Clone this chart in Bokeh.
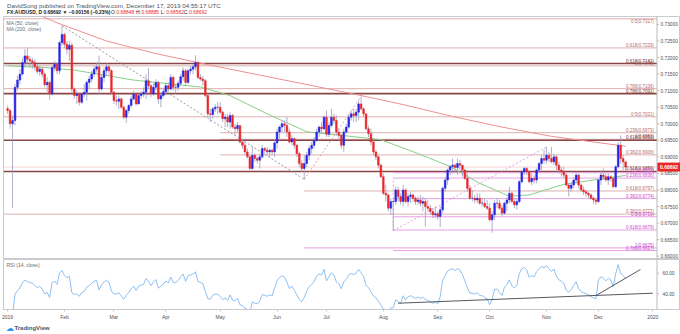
import numpy as np
import pandas as pd
from bokeh.plotting import figure
from bokeh.layouts import column
from bokeh.models import ColumnDataSource, Range1d, FixedTicker, Span
from bokeh.core.properties import value
from bokeh.embed import file_html
from bokeh.resources import INLINE

FONT = "Liberation Sans"

# ---------------- data (FX:AUDUSD daily, 2019) ----------------
first_open = 0.7046
closes = [
    # Jan
    0.7040, 0.7000, 0.7010, 0.7110, 0.7132, 0.7150, 0.7185, 0.7205, 0.7195, 0.7190, 0.7185, 0.7172,
    0.7158, 0.7165, 0.7150, 0.7118, 0.7125, 0.7090, 0.7170, 0.7180, 0.7160, 0.7245, 0.7270,
    # Feb
    0.7240, 0.7225, 0.7237, 0.7105, 0.7085, 0.7090, 0.7065, 0.7090, 0.7095, 0.7125, 0.7135, 0.7150,
    0.7165, 0.7172, 0.7105, 0.7140, 0.7160, 0.7172, 0.7160, 0.7095,
    # Mar
    0.7070, 0.7068, 0.7075, 0.7050, 0.7020, 0.7040, 0.7055, 0.7075, 0.7090, 0.7060, 0.7085, 0.7090,
    0.7095, 0.7130, 0.7115, 0.7090, 0.7110, 0.7125, 0.7075, 0.7085, 0.7097,
    # Apr
    0.7115, 0.7105, 0.7140, 0.7110, 0.7110, 0.7122, 0.7142, 0.7160, 0.7125, 0.7160, 0.7165, 0.7172,
    0.7185, 0.7140, 0.7135, 0.7130, 0.7085, 0.7030, 0.7028, 0.7045, 0.7050, 0.7050,
    # May
    0.7035, 0.7015, 0.7020, 0.7005, 0.7025, 0.6990, 0.6985, 0.6995, 0.6945, 0.6935, 0.6915, 0.6900,
    0.6865, 0.6905, 0.6895, 0.6890, 0.6900, 0.6925, 0.6920, 0.6915, 0.6920, 0.6915, 0.6942,
    # Jun
    0.6975, 0.6990, 0.7000, 0.6995, 0.6975, 0.6945, 0.6955, 0.6935, 0.6910, 0.6880, 0.6865, 0.6880,
    0.6905, 0.6925, 0.6935, 0.6950, 0.6975, 0.6990, 0.6985, 0.7020,
    # Jul
    0.6968, 0.6995, 0.7020, 0.7010, 0.6975, 0.6965, 0.6935, 0.6975, 0.6990, 0.7020, 0.7030, 0.7025,
    0.7035, 0.7060, 0.7045, 0.7030, 0.6985, 0.6970, 0.6945, 0.6915, 0.6900, 0.6875, 0.6840,
    # Aug
    0.6790, 0.6785, 0.6745, 0.6765, 0.6765, 0.6800, 0.6780, 0.6765, 0.6800, 0.6765, 0.6780, 0.6785,
    0.6775, 0.6765, 0.6770, 0.6760, 0.6765, 0.6750, 0.6745, 0.6735, 0.6725, 0.6728,
    # Sep
    0.6720, 0.6740, 0.6805, 0.6830, 0.6860, 0.6870, 0.6875, 0.6868, 0.6880, 0.6875, 0.6860, 0.6835,
    0.6805, 0.6775, 0.6775, 0.6770, 0.6775, 0.6760, 0.6760, 0.6750, 0.6745,
    # Oct
    0.6710, 0.6725, 0.6760, 0.6760, 0.6745, 0.6730, 0.6760, 0.6770, 0.6790, 0.6765, 0.6755, 0.6765,
    0.6825, 0.6855, 0.6865, 0.6855, 0.6825, 0.6835, 0.6830, 0.6860, 0.6880, 0.6895, 0.6890,
    # Nov
    0.6905, 0.6895, 0.6885, 0.6900, 0.6875, 0.6860, 0.6855, 0.6845, 0.6815, 0.6805, 0.6815, 0.6830,
    0.6845, 0.6815, 0.6800, 0.6795, 0.6790, 0.6785, 0.6775, 0.6770, 0.6765,
    # Dec
    0.6830, 0.6845, 0.6840, 0.6830, 0.6840, 0.6835, 0.6810, 0.6870, 0.6935, 0.6895, 0.68848, 0.68692,
]
highs = [
    0.7055, 0.7045, 0.7025, 0.7120, 0.7145, 0.7165, 0.7200, 0.7225, 0.7230, 0.7205, 0.7200, 0.7195,
    0.7180, 0.7175, 0.7170, 0.7155, 0.7140, 0.7130, 0.7175, 0.7190, 0.7185, 0.7250, 0.7296,
    0.7275, 0.7250, 0.7250, 0.7245, 0.7110, 0.7100, 0.7095, 0.7095, 0.7120, 0.7130, 0.7145, 0.7160,
    0.7175, 0.7185, 0.7206, 0.7150, 0.7170, 0.7182, 0.7180, 0.7165,
    0.7100, 0.7085, 0.7085, 0.7080, 0.7055, 0.7045, 0.7060, 0.7085, 0.7100, 0.7095, 0.7090, 0.7100,
    0.7110, 0.7150, 0.7168, 0.7120, 0.7120, 0.7135, 0.7130, 0.7095, 0.7110,
    0.7125, 0.7125, 0.7150, 0.7145, 0.7120, 0.7130, 0.7150, 0.7170, 0.7165, 0.7165, 0.7175, 0.7180,
    0.7207, 0.7190, 0.7150, 0.7145, 0.7135, 0.7090, 0.7045, 0.7050, 0.7060, 0.7065,
    0.7065, 0.7040, 0.7030, 0.7030, 0.7035, 0.7030, 0.7000, 0.7005, 0.6995, 0.6955, 0.6945, 0.6925,
    0.6905, 0.6930, 0.6910, 0.6900, 0.6910, 0.6935, 0.6930, 0.6930, 0.6925, 0.6925, 0.6950,
    0.6985, 0.6995, 0.7010, 0.7010, 0.7020, 0.6985, 0.6965, 0.6960, 0.6940, 0.6915, 0.6890, 0.6905,
    0.6915, 0.6935, 0.6945, 0.6960, 0.6985, 0.6995, 0.7005, 0.7025,
    0.7040, 0.7005, 0.7045, 0.7030, 0.7025, 0.6985, 0.6970, 0.6985, 0.7000, 0.7030, 0.7040, 0.7045,
    0.7045, 0.7070, 0.7082, 0.7050, 0.7030, 0.6995, 0.6985, 0.6950, 0.6920, 0.6905, 0.6880,
    0.6850, 0.6815, 0.6790, 0.6775, 0.6775, 0.6810, 0.6810, 0.6790, 0.6815, 0.6805, 0.6790, 0.6795,
    0.6790, 0.6780, 0.6780, 0.6785, 0.6780, 0.6775, 0.6770, 0.6755, 0.6745, 0.6750,
    0.6735, 0.6750, 0.6810, 0.6840, 0.6865, 0.6875, 0.6895, 0.6880, 0.6895, 0.6890, 0.6875, 0.6865,
    0.6850, 0.6815, 0.6800, 0.6785, 0.6790, 0.6790, 0.6775, 0.6775, 0.6770,
    0.6760, 0.6735, 0.6770, 0.6775, 0.6770, 0.6755, 0.6765, 0.6780, 0.6810, 0.6795, 0.6775, 0.6775,
    0.6830, 0.6860, 0.6870, 0.6870, 0.6860, 0.6850, 0.6845, 0.6865, 0.6885, 0.6905, 0.6922,
    0.6930, 0.6915, 0.6930, 0.6910, 0.6905, 0.6885, 0.6870, 0.6870, 0.6850, 0.6820, 0.6825, 0.6835,
    0.6855, 0.6850, 0.6820, 0.6810, 0.6800, 0.6795, 0.6790, 0.6780, 0.6775,
    0.6835, 0.6860, 0.6865, 0.6850, 0.6850, 0.6845, 0.6840, 0.6875, 0.6945, 0.6965, 0.6905, 0.68885,
]
lows = [
    0.7030, 0.6985, 0.6745, 0.6995, 0.7100, 0.7120, 0.7145, 0.7170, 0.7180, 0.7170, 0.7165, 0.7160,
    0.7150, 0.7145, 0.7140, 0.7110, 0.7095, 0.7072, 0.7085, 0.7160, 0.7150, 0.7150, 0.7235,
    0.7230, 0.7210, 0.7190, 0.7095, 0.7075, 0.7060, 0.7055, 0.7060, 0.7080, 0.7070, 0.7105, 0.7125,
    0.7140, 0.7155, 0.7090, 0.7100, 0.7125, 0.7145, 0.7145, 0.7090,
    0.7060, 0.7055, 0.7045, 0.7045, 0.7015, 0.7003, 0.7030, 0.7050, 0.7070, 0.7055, 0.7058, 0.7075,
    0.7080, 0.7075, 0.7105, 0.7080, 0.7085, 0.7100, 0.7060, 0.7050, 0.7080,
    0.7090, 0.7095, 0.7100, 0.7100, 0.7090, 0.7100, 0.7115, 0.7130, 0.7115, 0.7120, 0.7150, 0.7150,
    0.7160, 0.7135, 0.7130, 0.7115, 0.7080, 0.7020, 0.7005, 0.7015, 0.7035, 0.7030,
    0.7030, 0.7005, 0.6990, 0.6990, 0.6985, 0.6985, 0.6965, 0.6975, 0.6940, 0.6925, 0.6905, 0.6895,
    0.6860, 0.6860, 0.6885, 0.6880, 0.6865, 0.6895, 0.6910, 0.6905, 0.6900, 0.6905, 0.6900,
    0.6925, 0.6955, 0.6975, 0.6975, 0.6960, 0.6940, 0.6935, 0.6925, 0.6900, 0.6870, 0.6855, 0.6832,
    0.6870, 0.6890, 0.6910, 0.6925, 0.6945, 0.6960, 0.6970, 0.6980,
    0.6960, 0.6960, 0.6990, 0.7000, 0.6965, 0.6950, 0.6925, 0.6915, 0.6970, 0.6985, 0.7010, 0.7005,
    0.7005, 0.7010, 0.7040, 0.7020, 0.6980, 0.6960, 0.6935, 0.6905, 0.6890, 0.6865, 0.6835,
    0.6785, 0.6765, 0.6735, 0.6725, 0.6677, 0.6755, 0.6765, 0.6755, 0.6750, 0.6760, 0.6750, 0.6760,
    0.6765, 0.6755, 0.6755, 0.6750, 0.6735, 0.6690, 0.6735, 0.6725, 0.6715, 0.6715,
    0.6710, 0.6688, 0.6730, 0.6795, 0.6815, 0.6845, 0.6850, 0.6855, 0.6845, 0.6860, 0.6840, 0.6830,
    0.6795, 0.6770, 0.6765, 0.6760, 0.6760, 0.6755, 0.6750, 0.6745, 0.6740,
    0.6705, 0.6671, 0.6710, 0.6745, 0.6740, 0.6720, 0.6725, 0.6735, 0.6760, 0.6760, 0.6745, 0.6740,
    0.6760, 0.6820, 0.6845, 0.6845, 0.6820, 0.6815, 0.6820, 0.6820, 0.6850, 0.6860, 0.6880,
    0.6880, 0.6885, 0.6880, 0.6875, 0.6860, 0.6850, 0.6840, 0.6835, 0.6810, 0.6780, 0.6795, 0.6805,
    0.6820, 0.6805, 0.6795, 0.6785, 0.6780, 0.6775, 0.6770, 0.6758, 0.6755,
    0.6760, 0.6815, 0.6830, 0.6825, 0.6815, 0.6825, 0.6805, 0.6805, 0.6865, 0.6880, 0.6860, 0.68562,
]
# closes of Dec 2018 (RSI warm-up)
closes_dec2018 = [0.7345, 0.7300, 0.7225, 0.7210, 0.7195, 0.7200, 0.7215, 0.7205, 0.7165, 0.7180,
                  0.7150, 0.7105, 0.7120, 0.7050, 0.7040, 0.7045, 0.7025, 0.7045, 0.7040, 0.7046]

ma50_dates = ["2019-01-01", "2019-01-22", "2019-02-07", "2019-03-13", "2019-04-19", "2019-05-07",
              "2019-05-28", "2019-06-19", "2019-07-09", "2019-07-31", "2019-08-21", "2019-09-09",
              "2019-09-25", "2019-10-11", "2019-10-23", "2019-11-12", "2019-11-26", "2019-12-17"]
ma50_values = [0.7175, 0.7170, 0.7162, 0.7132, 0.7111, 0.7085, 0.7030, 0.6976, 0.6965, 0.6952,
               0.6910, 0.6871, 0.6820, 0.6781, 0.6785, 0.6817, 0.6828, 0.6844]
ma200_dates = ["2019-01-01", "2019-01-29", "2019-02-26", "2019-03-26", "2019-04-23", "2019-05-21",
               "2019-06-18", "2019-07-16", "2019-08-13", "2019-09-10", "2019-10-08", "2019-11-05",
               "2019-12-03", "2019-12-17"]
ma200_values = [0.7370, 0.7305, 0.7250, 0.7212, 0.7180, 0.7150, 0.7120, 0.7090, 0.7058, 0.7022,
                0.6990, 0.6962, 0.6942, 0.6932]

fib_prices = [0.7317, 0.7229, 0.7182, 0.7175, 0.7106, 0.7091, 0.7021, 0.6973, 0.6953, 0.6950,
              0.6906, 0.6856, 0.6852, 0.6836, 0.6797, 0.6774, 0.6727, 0.6719, 0.6679, 0.6625, 0.6617]
fib_ratios = ["0.5", "0.618", "0.618", "1", "0.786", "0.786", "0.5", "0.236", "1", "0.618",
              "0.382", "0.618", "0.5", "0.236", "0.618", "0.382", "0.382", "0.5", "0.618", "1", "0.786"]
fib_start = [None, None, None, None, None, None, None, "2019-05-01", "2019-05-01", None,
             "2019-05-01", None, "2019-08-07", "2019-08-07", "2019-06-18", "2019-08-07", None,
             "2019-08-07", "2019-08-07", "2019-06-18", "2019-08-07"]
fib_set = ["a", "a", "b", "a", "a", "b", "a", "a", "a", "b",
           "a", "b", "c", "c", "a", "c", "a", "c", "c", "c", "c"]

swing_start_dates = ["2019-01-31", "2019-06-18", "2019-08-07", "2019-08-07"]
swing_start_prices = [0.7296, 0.6832, 0.6677, 0.6677]
swing_end_dates = ["2019-06-18", "2019-07-19", "2019-11-01", "2019-08-07"]
swing_end_prices = [0.6832, 0.7082, 0.6930, 0.6836]

rsi_trend_start_dates = ["2019-08-09", "2019-11-29"]
rsi_trend_start_values = [30.9, 38.3]
rsi_trend_end_dates = ["2020-01-01", "2019-12-25"]
rsi_trend_end_values = [40.6, 63.6]

month_labels = ["2019", "Feb", "Mar", "Apr", "May", "Jun", "Jul", "Aug", "Sep", "Oct", "Nov", "Dec", "2020"]
price_ticks = [0.660, 0.665, 0.670, 0.675, 0.680, 0.685, 0.690, 0.695, 0.700, 0.705, 0.710,
               0.715, 0.720, 0.725, 0.730]
rsi_ticks = [40, 60]
last_price = 0.68692
header_line1 = "DavidSong published on TradingView.com, December 17, 2019 04:55:17 UTC"
header_symbol = "FX:AUDUSD, D  0.68692 \u25bc \u22120.00156 (\u22120.23%)"
ohlc_names = ["O:", "H:", "L:", "C:"]
ohlc_values = ["0.68848", "0.68885", "0.68562", "0.68692"]

# ---------------- derived ----------------
def bar_index(d):
    return len(pd.bdate_range("2019-01-01", d)) - 1

n = len(closes)
dates = pd.bdate_range("2019-01-01", periods=n)
idx = np.arange(n)
opens = [first_open] + closes[:-1]
UP, DOWN, WICK, RED = "#2424e6", "#ea2727", "#9c9cc0", "#ea2727"
colors = [UP if c >= o else DOWN for o, c in zip(opens, closes)]

month_ticks = [int(np.argmax(dates.month == m)) for m in range(1, 13)]
month_ticks.append(len(pd.bdate_range("2019-01-01", "2019-12-31")))

# RSI(14), Wilder smoothing
allc = np.array(closes_dec2018 + closes)
delta = np.diff(allc)
g = np.clip(delta, 0, None)
l = np.clip(-delta, 0, None)
N = 14
ag, al = g[:N].mean(), l[:N].mean()
rsi_all = []
for i in range(N, len(delta)):
    ag = (ag * (N - 1) + g[i]) / N
    al = (al * (N - 1) + l[i]) / N
    rsi_all.append(100 - 100 / (1 + ag / al) if al > 0 else 100.0)
rsi = rsi_all[len(rsi_all) - n:]

def cx(px):  # canvas px -> bar index (layout helper)
    return (px - 7.1) / 2.472

X_LO, X_HI = cx(3), cx(680)
Y_LO, Y_HI = 0.6590, 0.7324
AXIS_X = cx(656.5)
GRAYLINE = "#c9cbd1"
AXTXT = "#4c4f57"

def bare(fig):
    fig.grid.visible = False
    return fig

# ---------------- header ----------------
h = bare(figure(width=680, height=16, x_range=Range1d(0, 680), y_range=Range1d(16, 0),
                x_axis_location=None, y_axis_location=None, output_backend="svg",
                toolbar_location=None, min_border=0))
h.outline_line_color = None
h.text(x=[3.5], y=[4.6], text=[header_line1], text_font=value(FONT), text_font_size="6.2px",
       text_color="#50535e", text_baseline="middle")
h.text(x=[3.5], y=[11.8], text=[header_symbol], text_font=value(FONT), text_font_size="4.9px",
       text_color="#131722", text_baseline="middle", text_font_style="bold")
grp_x = [108, 133, 158, 181]
h.text(x=grp_x, y=[11.8] * 4, text=ohlc_names, text_font=value(FONT), text_font_size="4.9px",
       text_color="#131722", text_baseline="middle")
h.text(x=[v + 5.5 for v in grp_x], y=[11.8] * 4, text=ohlc_values, text_font=value(FONT),
       text_font_size="4.9px", text_color=RED, text_baseline="middle")

# ---------------- main pane ----------------
p = bare(figure(width=680, height=243, x_range=Range1d(X_LO, X_HI), y_range=Range1d(Y_LO, Y_HI),
                x_axis_location=None, y_axis_location=None, output_backend="svg",
                toolbar_location=None, min_border_left=3, min_border_right=0,
                min_border_top=0, min_border_bottom=0))
p.outline_line_color = GRAYLINE

styles = {"a": ("#ddb0b0", 1.0, "#b66c6c"),
          "b": ("#8a4646", 1.6, "#7a3030"),
          "c": ("#e7a0e7", 1.0, "#cc44cc")}
fsrc = ColumnDataSource(dict(
    x0=[X_LO if s is None else bar_index(s) for s in fib_start],
    x1=[AXIS_X] * len(fib_prices),
    y=fib_prices,
    lc=[styles[k][0] for k in fib_set],
    lw=[styles[k][1] for k in fib_set],
    tc=[styles[k][2] for k in fib_set],
    tb=["top" if v > Y_HI - 0.0012 else "bottom" for v in fib_prices],
    label=[f"{r}({v:.4f})" for r, v in zip(fib_ratios, fib_prices)],
))
p.segment(x0="x0", y0="y", x1="x1", y1="y", line_color="lc", line_width="lw", source=fsrc)
p.segment(x0=[X_LO], y0=[last_price], x1=[AXIS_X], y1=[last_price], line_color="#f4a6a6",
          line_width=1, line_dash="1 1")

ssrc = ColumnDataSource(dict(
    x0=[bar_index(d) for d in swing_start_dates], y0=swing_start_prices,
    x1=[bar_index(d) for d in swing_end_dates], y1=swing_end_prices,
    c=["#9a9aa2", "#e0a0a0", "#e7a0e7", "#e7a0e7"]))
p.segment(x0="x0", y0="y0", x1="x1", y1="y1", line_color="c", line_width=1,
          line_dash="2 2", source=ssrc)

p.line([bar_index(d) for d in ma200_dates], ma200_values, line_color="#ef8f8f", line_width=1)
p.line([bar_index(d) for d in ma50_dates], ma50_values, line_color="#86cf86", line_width=1)

csrc = ColumnDataSource(dict(x=idx, o=opens, c=closes, h=highs, l=lows, col=colors))
p.segment(x0="x", y0="l", x1="x", y1="h", line_color=WICK, line_width=0.8, source=csrc)
p.vbar(x="x", width=0.7, top="o", bottom="c", fill_color="col", line_color="col",
       line_width=0.5, source=csrc)

p.text(x=cx(653.5), y="y", text="label", text_color="tc", text_align="right",
       text_baseline="tb", text_font_size="4.5px", text_font=value(FONT), source=fsrc)

p.text(x=[cx(6), cx(6)], y=[0.7303, 0.7286], text=["MA (50, close)", "MA (200, close)"],
       text_font=value(FONT), text_font_size="5px", text_color="#6a6d78", text_baseline="middle")

# price scale (right)
p.add_layout(Span(location=AXIS_X, dimension="height", line_color="#b8bbc3", line_width=1))
p.segment(x0=[AXIS_X] * len(price_ticks), y0=price_ticks, x1=[cx(658.5)] * len(price_ticks),
          y1=price_ticks, line_color="#b8bbc3", line_width=1)
p.text(x=[cx(660)] * len(price_ticks), y=price_ticks, text=[f"{t:.5f}" for t in price_ticks],
       text_font=value(FONT), text_font_size="4.8px", text_color=AXTXT, text_baseline="middle")
p.rect(x=[cx(668.5)], y=[last_price], width=23, height=8, width_units="screen",
       height_units="screen", fill_color=RED, line_color=RED)
p.text(x=[cx(659.5)], y=[last_price], text=[f"{last_price:.5f}"], text_font=value(FONT),
       text_font_size="5px", text_font_style="bold", text_color="white", text_baseline="middle")

# ---------------- RSI pane ----------------
r = bare(figure(width=680, height=63, x_range=p.x_range, y_range=Range1d(24.8, 73.3),
                y_axis_location=None, output_backend="svg", toolbar_location=None,
                min_border_left=3, min_border_right=0, min_border_top=0, min_border_bottom=13))
r.outline_line_color = GRAYLINE
rx = r.xaxis[0]
rx.ticker = FixedTicker(ticks=month_ticks)
rx.major_label_overrides = {t: lab for t, lab in zip(month_ticks, month_labels)}
rx.major_label_text_font_size = "5px"
rx.major_label_text_font = FONT
rx.major_label_text_color = AXTXT
rx.axis_line_color = GRAYLINE
rx.major_tick_line_color = GRAYLINE
rx.major_tick_out = 2
rx.major_tick_in = 0
rx.minor_tick_line_color = None
rx.major_label_standoff = 2

r.line(idx, rsi, line_color="#8dbff2", line_width=1)
tsrc = ColumnDataSource(dict(
    x0=[bar_index(d) for d in rsi_trend_start_dates], y0=rsi_trend_start_values,
    x1=[bar_index(d) for d in rsi_trend_end_dates], y1=rsi_trend_end_values))
r.segment(x0="x0", y0="y0", x1="x1", y1="y1", line_color="#55585f", line_width=1, source=tsrc)
r.text(x=[cx(6)], y=[68.0], text=["RSI (14, close)"], text_font=value(FONT),
       text_font_size="5px", text_color="#6a6d78", text_baseline="middle")
r.add_layout(Span(location=AXIS_X, dimension="height", line_color="#b8bbc3", line_width=1))
r.segment(x0=[AXIS_X] * len(rsi_ticks), y0=rsi_ticks, x1=[cx(658.5)] * len(rsi_ticks),
          y1=rsi_ticks, line_color="#b8bbc3", line_width=1)
r.text(x=[cx(662)] * len(rsi_ticks), y=rsi_ticks, text=[f"{t:.2f}" for t in rsi_ticks],
       text_font=value(FONT), text_font_size="4.8px", text_color=AXTXT, text_baseline="middle")

# ---------------- footer ----------------
f = bare(figure(width=680, height=12, x_range=Range1d(0, 680), y_range=Range1d(12, 0),
                x_axis_location=None, y_axis_location=None, output_backend="svg",
                toolbar_location=None, min_border=0))
f.outline_line_color = None
f.text(x=[2.5], y=[5.5], text=["\u2601"], text_font=value("DejaVu Sans"), text_font_size="8px",
       text_color="#2196f3", text_baseline="middle")
f.text(x=[11], y=[5.5], text=["TradingView"], text_font=value(FONT), text_font_size="6px",
       text_font_style="bold", text_color="#50535e", text_baseline="middle")

layout = column(h, p, r, f)
open("out.html", "w").write(file_html(layout, INLINE))
